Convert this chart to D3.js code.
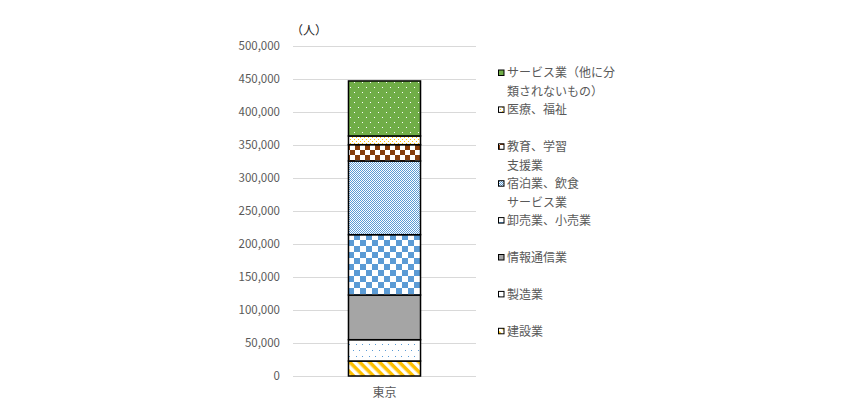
<!DOCTYPE html>
<html>
<head>
<meta charset="utf-8">
<script src="https://cdn.jsdelivr.net/npm/d3@7"></script>
<style>
  body { margin: 0; background: #fff; }
  text { font-family: "Noto Sans CJK JP", "Noto Sans", sans-serif; fill: #595959; }
</style>
</head>
<body>
<div id="chart"></div>
<script>
// categories and values (people)
const categories = ["東京"];
const industries = ["建設業", "製造業", "情報通信業", "卸売業、小売業",
  "宿泊業、飲食サービス業", "教育、学習支援業", "医療、福祉", "サービス業（他に分類されないもの）"];
const values = [22700, 32300, 67700, 91400, 111700, 24700, 13200, 83300];
// legend text, wrapped like the original
const legendLines = [
  ["建設業"], ["製造業"], ["情報通信業"], ["卸売業、小売業"],
  ["宿泊業、飲食", "サービス業"], ["教育、学習", "支援業"], ["医療、福祉"],
  ["サービス業（他に分", "類されないもの）"]
];
const yTicks = d3.range(0, 500001, 50000);

const width = 865, height = 420;
const plot = {left: 293, right: 476, top: 46, bottom: 376};

const svg = d3.select("#chart").append("svg")
    .attr("width", width)
    .attr("height", height);

// fill patterns for each segment
const defs = svg.append("defs");
const patternIds = ["p-build", "p-manu", "p-info", "p-retail", "p-hotel", "p-edu", "p-med", "p-serv"];

function pattern(id, w, h) {
    return defs.append("pattern").attr("id", id)
        .attr("patternUnits", "userSpaceOnUse")
        .attr("width", w).attr("height", h);
}
function dot(p, px, py, color) {
    p.append("rect").attr("x", px).attr("y", py).attr("width", 1).attr("height", 1).attr("fill", color);
}

// construction: yellow diagonal stripes
let p = pattern("p-build", 7, 7).attr("patternTransform", "rotate(45)");
p.append("rect").attr("width", 7).attr("height", 7).attr("fill", "#fff");
p.append("rect").attr("width", 7).attr("height", 3.5).attr("fill", "#FFC000");

// manufacturing: white with sparse blue dots
p = pattern("p-manu", 13, 12);
p.append("rect").attr("width", 13).attr("height", 12).attr("fill", "#fff");
dot(p, 2, 2, "#5B9BD5"); dot(p, 8, 2, "#5B9BD5");
dot(p, 5, 8, "#5B9BD5"); dot(p, 11, 8, "#5B9BD5");

// information: solid grey
p = pattern("p-info", 4, 4);
p.append("rect").attr("width", 4).attr("height", 4).attr("fill", "#A5A5A5");

// wholesale/retail: large blue checker
p = pattern("p-retail", 12, 12);
p.append("rect").attr("width", 12).attr("height", 12).attr("fill", "#fff");
p.append("rect").attr("width", 6).attr("height", 6).attr("fill", "#5B9BD5");
p.append("rect").attr("x", 6).attr("y", 6).attr("width", 6).attr("height", 6).attr("fill", "#5B9BD5");

// accommodation: fine blue checker
p = pattern("p-hotel", 2, 2);
p.append("rect").attr("width", 2).attr("height", 2).attr("fill", "#fff");
dot(p, 0, 0, "#5B9BD5"); dot(p, 1, 1, "#5B9BD5");

// education: brown checker
p = pattern("p-edu", 10, 10);
p.append("rect").attr("width", 10).attr("height", 10).attr("fill", "#fff");
p.append("rect").attr("width", 5).attr("height", 5).attr("fill", "#843C0C");
p.append("rect").attr("x", 5).attr("y", 5).attr("width", 5).attr("height", 5).attr("fill", "#843C0C");

// medical: white with dense yellow dots
p = pattern("p-med", 4, 4);
p.append("rect").attr("width", 4).attr("height", 4).attr("fill", "#fff");
dot(p, 0, 1, "#FFC000"); dot(p, 2, 3, "#FFC000");

// services: green with white dots
p = pattern("p-serv", 8, 10);
p.append("rect").attr("width", 8).attr("height", 10).attr("fill", "#70AD47");
dot(p, 2, 2, "#fff"); dot(p, 6, 7, "#fff");

// scales
const x = d3.scaleBand()
    .domain(categories)
    .range([plot.left, plot.right])
    .padding(0.435);

const y = d3.scaleLinear()
    .domain([0, 500000])
    .range([plot.bottom, plot.top]);

// gridlines
svg.append("g").selectAll("line")
    .data(yTicks)
    .join("line")
    .attr("x1", plot.left)
    .attr("x2", plot.right)
    .attr("y1", d => Math.round(y(d)) + 0.5)
    .attr("y2", d => Math.round(y(d)) + 0.5)
    .attr("stroke", "#D9D9D9");

// y axis labels
svg.append("g").selectAll("text")
    .data(yTicks)
    .join("text")
    .attr("x", 280)
    .attr("y", d => y(d))
    .attr("dy", "0.35em")
    .attr("text-anchor", "end")
    .style("font-size", "11.5px")
    .text(d3.format(","));

// unit label
svg.append("text")
    .attr("x", 309)
    .attr("y", 31)
    .attr("dy", "0.35em")
    .attr("text-anchor", "middle")
    .style("font-size", "12px")
    .style("fill", "#222")
    .text("（人）");

// stacked segments
const row = {name: categories[0]};
industries.forEach((k, i) => row[k] = values[i]);
const series = d3.stack().keys(industries)([row]);

svg.append("g").selectAll("rect")
    .data(series)
    .join("rect")
    .attr("x", x(categories[0]))
    .attr("width", x.bandwidth())
    .attr("y", d => y(d[0][1]))
    .attr("height", d => y(d[0][0]) - y(d[0][1]))
    .attr("fill", (d, i) => `url(#${patternIds[i]})`)
    .attr("stroke", "#000")
    .attr("stroke-width", 1.5);

// x axis label
svg.append("text")
    .attr("x", x(categories[0]) + x.bandwidth() / 2)
    .attr("y", 393)
    .attr("dy", "0.35em")
    .attr("text-anchor", "middle")
    .style("font-size", "12px")
    .text(categories[0]);

// legend, top entry is the top of the stack
const legend = svg.append("g");
const order = d3.range(industries.length).reverse();
order.forEach((idx, j) => {
    const ly = 73 + j * 36.9;
    legend.append("rect")
        .attr("x", 498.5)
        .attr("y", ly - 3)
        .attr("width", 5.5)
        .attr("height", 5.5)
        .attr("fill", `url(#${patternIds[idx]})`)
        .attr("stroke", "#000")
        .attr("stroke-width", 1);
    legendLines[idx].forEach((line, k) => {
        legend.append("text")
            .attr("x", 507)
            .attr("y", ly + k * 19)
            .attr("dy", "0.35em")
            .style("font-size", "12px")
            .text(line);
    });
});
</script>
</body>
</html>
